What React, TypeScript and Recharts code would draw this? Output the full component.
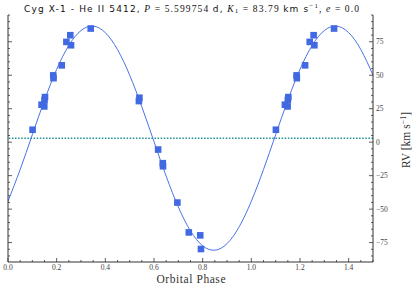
import React from 'react';
import { ComposedChart, Line, Scatter, XAxis, YAxis, ReferenceLine } from 'recharts';

// model curve, every 0.05 in phase
const curvePhase = [
  0, 0.05, 0.1, 0.15, 0.2, 0.25, 0.3, 0.35, 0.4, 0.45, 0.5, 0.55, 0.6, 0.65, 0.7, 0.75,
  0.8, 0.85, 0.9, 0.95, 1.0, 1.05, 1.1, 1.15, 1.2, 1.25, 1.3, 1.35, 1.4, 1.45, 1.5,
];
const curveRv = [
  -44.1, -20.4, 5.6, 31.4, 54.4, 72.3, 83.4, 86.7, 81.8, 69.2, 50.1, 26.4, 0.4, -25.4, -48.4, -66.3,
  -77.4, -80.7, -75.8, -63.2, -44.1, -20.4, 5.6, 31.4, 54.4, 72.3, 83.4, 86.7, 81.8, 69.2, 50.1,
];

// observed radial velocities (folded phase)
const obsPhase = [
  0.101, 0.138, 0.149, 0.152, 0.15, 0.186, 0.187, 0.221, 0.24, 0.256, 0.259, 0.34,
  0.54, 0.538, 0.617, 0.636, 0.637, 0.696, 0.743, 0.79, 0.793,
];
const obsRv = [
  9.3, 28.0, 26.7, 33.7, 31.5, 49.9, 47.8, 57.4, 74.9, 79.9, 72.4, 84.9,
  33.2, 30.7, -5.5, -15.7, -18.0, -45.1, -67.4, -69.6, -79.8,
];

const gamma = 3.0;

const xMajorTicks = [0, 0.2, 0.4, 0.6, 0.8, 1.0, 1.2, 1.4];
const yMajorTicks = [-75, -50, -25, 0, 25, 50, 75];

const xAllTicks: number[] = [];
for (let i = 0; i <= 30; i++) xAllTicks.push(Math.round(i * 5) / 100);
const yAllTicks: number[] = [];
for (let v = -85; v <= 95; v += 5) yAllTicks.push(v);

const curveData = curvePhase.map((p, i) => ({ p, v: curveRv[i] }));
const obsData: { p: number; v: number }[] = [];
obsPhase.forEach((p, i) => {
  obsData.push({ p, v: obsRv[i] });
  if (p + 1 <= 1.5) obsData.push({ p: p + 1, v: obsRv[i] });
});

const isMajor = (v: number, list: number[]) => list.some((t) => Math.abs(t - v) < 1e-6);
const fmtY = (v: number) => (v < 0 ? '\u2212' + Math.abs(v) : String(v));

const tickColor = '#333';
const labelColor = '#444';
const serif = "'Liberation Serif', 'Times New Roman', serif";
const sans = "'DejaVu Sans', sans-serif";

const BottomTick = (props: any) => {
  const { x, y, payload } = props;
  const major = isMajor(payload.value, xMajorTicks);
  return (
    <g>
      <line x1={x} x2={x} y1={y} y2={y - (major ? 4 : 2)} stroke={tickColor} strokeWidth={0.8} />
      {major && (
        <text x={x} y={y + 8} textAnchor="middle" fontSize={7.5} fontFamily={serif} fill={labelColor}>
          {payload.value.toFixed(1)}
        </text>
      )}
    </g>
  );
};

const TopTick = (props: any) => {
  const { x, y, payload } = props;
  const major = isMajor(payload.value, xMajorTicks);
  return <line x1={x} x2={x} y1={y} y2={y + (major ? 4 : 2)} stroke={tickColor} strokeWidth={0.8} />;
};

const LeftTick = (props: any) => {
  const { x, y, payload } = props;
  const major = isMajor(payload.value, yMajorTicks);
  return <line x1={x} x2={x + (major ? 4 : 2)} y1={y} y2={y} stroke={tickColor} strokeWidth={0.8} />;
};

const RightTick = (props: any) => {
  const { x, y, payload } = props;
  const major = isMajor(payload.value, yMajorTicks);
  return (
    <g>
      <line x1={x} x2={x - (major ? 4 : 2)} y1={y} y2={y} stroke={tickColor} strokeWidth={0.8} />
      {major && (
        <text x={x + 3} y={y + 2.6} textAnchor="start" fontSize={7.5} fontFamily={serif} fill={labelColor}>
          {fmtY(payload.value)}
        </text>
      )}
    </g>
  );
};

const Square = (props: any) => {
  const { cx, cy } = props;
  if (cx == null || cy == null) return null;
  return <rect x={cx - 3.3} y={cy - 3.3} width={6.6} height={6.6} fill="#4169e1" />;
};

export default function App() {
  const axisLine = { stroke: '#333', strokeWidth: 1 };
  return (
    <div style={{ position: 'absolute', left: 0, top: 0, width: 415, height: 288, background: '#fff' }}>
      <ComposedChart width={415} height={288} margin={{ top: 15, right: 0, bottom: 0, left: 0 }}>
        <XAxis
          xAxisId="b"
          type="number"
          dataKey="p"
          domain={[0, 1.5]}
          ticks={xAllTicks}
          interval={0}
          tickSize={0}
          tickMargin={0}
          height={26}
          axisLine={axisLine}
          tick={<BottomTick />}
          allowDataOverflow
        />
        <XAxis
          xAxisId="t"
          orientation="top"
          type="number"
          dataKey="p"
          domain={[0, 1.5]}
          ticks={xAllTicks}
          interval={0}
          tickSize={0}
          tickMargin={0}
          height={0}
          axisLine={axisLine}
          tick={<TopTick />}
          allowDataOverflow
        />
        <YAxis
          yAxisId="l"
          type="number"
          domain={[-89.5, 95]}
          ticks={yAllTicks}
          interval={0}
          tickSize={0}
          tickMargin={0}
          width={8}
          axisLine={axisLine}
          tick={<LeftTick />}
          allowDataOverflow
        />
        <YAxis
          yAxisId="r"
          orientation="right"
          type="number"
          domain={[-89.5, 95]}
          ticks={yAllTicks}
          interval={0}
          tickSize={0}
          tickMargin={0}
          width={42}
          axisLine={axisLine}
          tick={<RightTick />}
          allowDataOverflow
        />
        <ReferenceLine
          xAxisId="b"
          yAxisId="r"
          y={gamma}
          stroke="#1a9090"
          strokeWidth={1.5}
          strokeDasharray="1.5 1.6"
        />
        <Line
          xAxisId="b"
          yAxisId="r"
          data={curveData}
          dataKey="v"
          type="natural"
          stroke="#4a72e6"
          strokeWidth={1}
          dot={false}
          activeDot={false}
          isAnimationActive={false}
        />
        <Scatter
          xAxisId="b"
          yAxisId="r"
          data={obsData}
          dataKey="v"
          shape={<Square />}
          isAnimationActive={false}
        />
      </ComposedChart>
      <svg
        width={415}
        height={288}
        style={{ position: 'absolute', left: 0, top: 0, pointerEvents: 'none' }}
      >
        <text x={24} y={11.5} textLength={335} lengthAdjust="spacing" fontSize={9.5} fill="#111">
          <tspan fontFamily={sans} fontSize={9}>Cyg X-1 - He II 5412,</tspan>
          <tspan fontFamily={serif} fontStyle="italic">{'  P'}</tspan>
          <tspan fontFamily={serif}>{' = 5.599754 '}</tspan>
          <tspan fontFamily={sans} fontSize={9}>d,</tspan>
          <tspan fontFamily={serif} fontStyle="italic">{' K'}</tspan>
          <tspan fontFamily={serif} fontSize={7} dy={1.5}>1</tspan>
          <tspan fontFamily={serif} dy={-1.5}>{' = 83.79 '}</tspan>
          <tspan fontFamily={sans} fontSize={9}>km s</tspan>
          <tspan fontFamily={serif} fontSize={7} dy={-3.5}>{'\u22121'}</tspan>
          <tspan fontFamily={serif} dy={3.5}>{',  '}</tspan>
          <tspan fontFamily={serif} fontStyle="italic">e</tspan>
          <tspan fontFamily={serif}>{' = 0.0'}</tspan>
        </text>
        <text
          x={191}
          y={283}
          textAnchor="middle"
          fontFamily={serif}
          fontSize={11.5}
          textLength={69}
          lengthAdjust="spacing"
          fill="#333"
        >
          Orbital Phase
        </text>
        <text
          x={410}
          y={140}
          transform="rotate(-90 410 140)"
          textAnchor="middle"
          fontFamily={serif}
          fontSize={11.5}
          fill="#333"
        >
          RV [km s<tspan fontSize={8} dy={-4}>{'\u22121'}</tspan>
          <tspan dy={4}>]</tspan>
        </text>
      </svg>
    </div>
  );
}
